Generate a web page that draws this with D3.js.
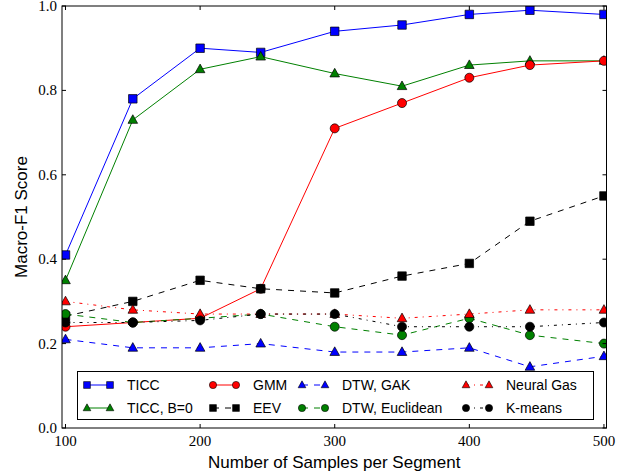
<!DOCTYPE html>
<html>
<head>
<meta charset="utf-8">
<script src="https://cdn.jsdelivr.net/npm/d3@7"></script>
<style>
  body { margin: 0; background: #fff; }
  svg { display: block; }
</style>
</head>
<body>
<div id="main"></div>
<script>
// samples per segment
const samples = [100, 150, 200, 245, 300, 350, 400, 445, 500];

const ticc      = [0.41, 0.78, 0.90, 0.89, 0.94, 0.955, 0.98, 0.99, 0.98];
const ticcB0    = [0.35, 0.73, 0.85, 0.88, 0.84, 0.81, 0.86, 0.87, 0.87];
const gmm       = [0.24, 0.25, 0.26, 0.33, 0.71, 0.77, 0.83, 0.86, 0.87];
const eev       = [0.265, 0.30, 0.35, 0.33, 0.32, 0.36, 0.39, 0.49, 0.55];
const dtwGak    = [0.21, 0.19, 0.19, 0.20, 0.18, 0.18, 0.19, 0.145, 0.17];
const dtwEuc    = [0.27, 0.25, 0.26, 0.27, 0.24, 0.22, 0.26, 0.22, 0.20];
const neuralGas = [0.30, 0.28, 0.27, 0.27, 0.27, 0.26, 0.27, 0.28, 0.28];
const kmeans    = [0.25, 0.25, 0.255, 0.27, 0.27, 0.24, 0.24, 0.24, 0.25];

const xTicks = [100, 200, 300, 400, 500];
const yTicks = [0.0, 0.2, 0.4, 0.6, 0.8, 1.0];

const series = [
  {name: 'TICC',          values: ticc,      color: '#0000ff', dash: null,      marker: 'square'},
  {name: 'TICC, B=0',     values: ticcB0,    color: '#008000', dash: null,      marker: 'triangle'},
  {name: 'GMM',           values: gmm,       color: '#ff0000', dash: null,      marker: 'circle'},
  {name: 'EEV',           values: eev,       color: '#000000', dash: '6,6',     marker: 'square'},
  {name: 'DTW, GAK',      values: dtwGak,    color: '#0000ff', dash: '6,6',     marker: 'triangle'},
  {name: 'DTW, Euclidean',values: dtwEuc,    color: '#008000', dash: '6,6',     marker: 'circle'},
  {name: 'Neural Gas',    values: neuralGas, color: '#ff0000', dash: '3,5,1,5', marker: 'triangle'},
  {name: 'K-means',       values: kmeans,    color: '#000000', dash: '3,5,1,5', marker: 'circle'}
];

const margin = {top: 6, right: 24.5, bottom: 48, left: 62};
const totalW = 631, totalH = 476;
const width = totalW - margin.left - margin.right;
const height = totalH - margin.top - margin.bottom;

const svg = d3.select('#main').append('svg')
  .attr('width', totalW)
  .attr('height', totalH);

const g = svg.append('g')
  .attr('transform', 'translate(' + margin.left + ',' + margin.top + ')');

const x = d3.scaleLinear().domain([97.4, 501.9]).range([0, width]);
const y = d3.scaleLinear().domain([0, 1]).range([height, 0]);

svg.append('defs').append('clipPath').attr('id', 'plotclip')
  .append('rect').attr('width', width).attr('height', height);

function markerPath(type, k) {
  k = k || 1;
  if (type === 'square') return d3.symbol(d3.symbolSquare, 72 * k * k)();
  if (type === 'circle') return d3.symbol(d3.symbolCircle, 64 * k * k)();
  return 'M0,' + (-5.2 * k) + 'L' + (4.8 * k) + ',' + (3.4 * k) + 'L' + (-4.8 * k) + ',' + (3.4 * k) + 'Z';
}

const plot = g.append('g').attr('clip-path', 'url(#plotclip)');

const line = d3.line()
  .x((d, i) => x(samples[i]))
  .y(d => y(d));

series.forEach(s => {
  const sg = plot.append('g');
  sg.append('path')
    .datum(s.values)
    .attr('fill', 'none')
    .attr('stroke', s.color)
    .attr('stroke-width', 1)
    .attr('stroke-dasharray', s.dash)
    .attr('d', line);
  sg.selectAll('.pt')
    .data(s.values)
  .enter().append('path')
    .attr('class', 'pt')
    .attr('transform', (d, i) => 'translate(' + x(samples[i]) + ',' + y(d) + ')')
    .attr('d', markerPath(s.marker))
    .attr('fill', s.color)
    .attr('stroke', '#000')
    .attr('stroke-width', 0.7);
});

// ticks inside on all four sides
const tickLen = 4;
const tickG = g.append('g').attr('stroke', '#000').attr('stroke-width', 1);
xTicks.forEach(t => {
  tickG.append('line').attr('x1', x(t)).attr('x2', x(t)).attr('y1', height).attr('y2', height - tickLen);
  tickG.append('line').attr('x1', x(t)).attr('x2', x(t)).attr('y1', 0).attr('y2', tickLen);
});
yTicks.forEach(t => {
  tickG.append('line').attr('x1', 0).attr('x2', tickLen).attr('y1', y(t)).attr('y2', y(t));
  tickG.append('line').attr('x1', width).attr('x2', width - tickLen).attr('y1', y(t)).attr('y2', y(t));
});

g.append('rect')
  .attr('width', width)
  .attr('height', height)
  .attr('fill', 'none')
  .attr('stroke', '#000')
  .attr('stroke-width', 1);

const serif = '"Liberation Serif", "DejaVu Serif", serif';
const sans = '"Liberation Sans", Arial, sans-serif';

g.selectAll('.xlab')
  .data(xTicks)
.enter().append('text')
  .attr('x', d => x(d))
  .attr('y', height + 18)
  .attr('text-anchor', 'middle')
  .style('font-family', serif)
  .style('font-size', '15px')
  .text(d => d);

g.selectAll('.ylab')
  .data(yTicks)
.enter().append('text')
  .attr('x', -5)
  .attr('y', d => y(d) + 5)
  .attr('text-anchor', 'end')
  .style('font-family', serif)
  .style('font-size', '15px')
  .text(d => d.toFixed(1));

svg.append('text')
  .attr('x', margin.left + width / 2)
  .attr('y', totalH - 8)
  .attr('text-anchor', 'middle')
  .style('font-family', sans)
  .style('font-size', '17px')
  .text('Number of Samples per Segment');

svg.append('text')
  .attr('transform', 'translate(27,' + (margin.top + height / 2) + ') rotate(-90)')
  .attr('text-anchor', 'middle')
  .style('font-family', sans)
  .style('font-size', '17px')
  .text('Macro-F1 Score');

// legend, 4 columns x 2 rows, filled column-first
const legend = svg.append('g');
legend.append('rect')
  .attr('x', 77.5).attr('y', 371.5)
  .attr('width', 516).attr('height', 48)
  .attr('fill', '#fff')
  .attr('stroke', '#000')
  .attr('stroke-width', 1);

const colX = [87, 213, 302, 466];
const rowY = [385, 408];
const handleW = 23;

series.forEach((s, i) => {
  const cx = colX[Math.floor(i / 2)];
  const cy = rowY[i % 2];
  const lg = legend.append('g');
  lg.append('line')
    .attr('x1', cx).attr('x2', cx + handleW)
    .attr('y1', cy).attr('y2', cy)
    .attr('stroke', s.color)
    .attr('stroke-width', 1)
    .attr('stroke-dasharray', s.dash);
  [cx, cx + handleW].forEach(px => {
    lg.append('path')
      .attr('transform', 'translate(' + px + ',' + cy + ')')
      .attr('d', markerPath(s.marker, 0.8))
      .attr('fill', s.color)
      .attr('stroke', '#000')
      .attr('stroke-width', 0.6);
  });
  lg.append('text')
    .attr('x', cx + handleW + 17)
    .attr('y', cy + 5)
    .style('font-family', sans)
    .style('font-size', '14px')
    .text(s.name);
});
</script>
</body>
</html>
